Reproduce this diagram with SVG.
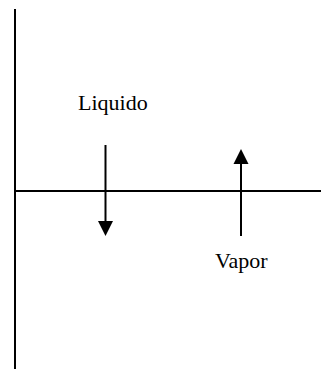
<svg xmlns="http://www.w3.org/2000/svg" width="321" height="369" viewBox="0 0 321 369">
<style>
.ln{stroke:#000;stroke-width:2;fill:none}
.lb{font-family:"Liberation Serif","Times New Roman",serif;font-size:22px;fill:#000}
</style>
<defs>
<marker id="ah" markerWidth="8" markerHeight="8" refX="7.5" refY="4" orient="auto" markerUnits="userSpaceOnUse" viewBox="0 0 8 8">
<path d="M0,0 L8,4 L0,8 Z" fill="#000"/>
</marker>
</defs>
<rect width="321" height="369" fill="#fff"/>
<g id="axes">
<line class="ln" x1="15" y1="9" x2="15" y2="369"/>
<line class="ln" x1="14" y1="191" x2="321" y2="191"/>
</g>
<g id="connectors">
<line class="ln" x1="105.5" y1="145" x2="105.5" y2="222"/>
<path d="M98,221 L113,221 L105.5,236 Z" fill="#000"/>
<line class="ln" x1="241" y1="236" x2="241" y2="163"/>
<path d="M233.5,164 L248.5,164 L241,149 Z" fill="#000"/>
</g>
<g id="liquido"><text class="lb" x="78" y="110">Liquido</text></g>
<g id="vapor"><text class="lb" x="215" y="268">Vapor</text></g>
</svg>
